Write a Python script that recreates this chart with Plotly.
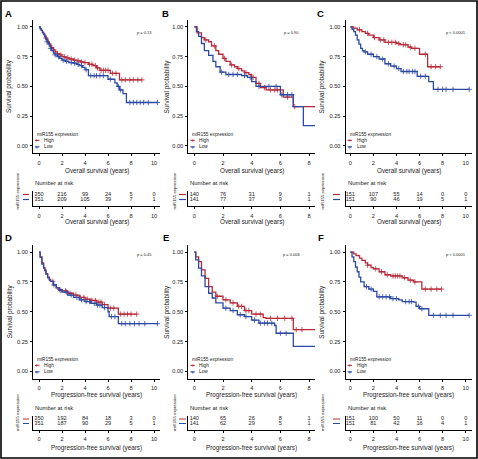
import numpy as np
import plotly.graph_objects as go

W, H = 478, 459
RED = "#B8293A"
BLUE = "#2C49A3"
NARROW = "Liberation Sans Narrow, Arial Narrow, Liberation Sans, Arial, sans-serif"
SANS = "Liberation Sans, Arial, sans-serif"
TXT = "#222222"

# ------------------------------------------------------------------ data
TICKS_10 = [0, 2, 4, 6, 8, 10]
TICKS_8 = [0, 2, 4, 6, 8]
Y_TICKS = [0, 0.25, 0.5, 0.75, 1.0]
Y_TICK_TEXT = ["0.00", "0.25", "0.50", "0.75", "1.00"]
OS_TITLE = "Overall survival (years)"
PFS_TITLE = "Progression-free survival (years)"
Y_TITLE = "Survival probability"
GROUP_TITLE = "miR155 expression"
GROUPS = ["High", "Low"]
LETTERS = ["A", "B", "C", "D", "E", "F"]
P_VALUES = ["p = 0.13", "p = 0.90", "p < 0.0001", "p = 0.45", "p = 0.006", "p < 0.0001"]

# Panel A (overall survival)
A_HIGH_T = [0, 0.1, 0.2, 0.3, 0.4, 0.5, 0.6, 0.7, 0.8, 0.9, 1.0, 1.1, 1.25, 1.4, 1.6, 1.8, 2.0, 2.3, 2.6, 3.0, 3.3, 3.6, 3.9, 4.3, 4.7, 5.0, 5.3, 6.2, 7.0, 8.95]
A_HIGH_S = [1.0, 0.985, 0.97, 0.955, 0.94, 0.925, 0.905, 0.89, 0.87, 0.855, 0.84, 0.825, 0.805, 0.79, 0.775, 0.765, 0.75, 0.74, 0.73, 0.72, 0.715, 0.705, 0.70, 0.685, 0.675, 0.655, 0.635, 0.61, 0.555, 0.555]
A_LOW_T = [0, 0.1, 0.2, 0.3, 0.4, 0.5, 0.6, 0.7, 0.8, 0.9, 1.0, 1.1, 1.25, 1.4, 1.6, 1.8, 2.0, 2.3, 2.6, 3.0, 3.3, 3.5, 3.8, 4.0, 4.3, 5.8, 6.0, 6.6, 6.8, 7.0, 7.3, 7.6, 10.3]
A_LOW_S = [1.0, 0.985, 0.97, 0.95, 0.935, 0.915, 0.895, 0.875, 0.86, 0.84, 0.82, 0.80, 0.78, 0.765, 0.75, 0.735, 0.72, 0.71, 0.70, 0.695, 0.685, 0.675, 0.66, 0.64, 0.59, 0.59, 0.56, 0.53, 0.50, 0.47, 0.44, 0.365, 0.365]
A_HIGH_CENS = [0.6, 0.9, 1.3, 1.6, 1.9, 2.2, 2.5, 2.8, 3.1, 3.4, 3.7, 4.0, 4.4, 4.6, 4.9, 5.1, 5.4, 5.6, 5.8, 6.0, 6.4, 6.7, 7.2, 7.5, 7.9, 8.2, 8.6, 8.95]
A_LOW_CENS = [0.7, 1.0, 1.4, 1.7, 2.1, 2.4, 2.8, 3.1, 3.4, 3.7, 4.1, 4.5, 4.8, 5.0, 5.3, 5.6, 6.2, 6.9, 7.1, 7.9, 8.2, 8.5, 8.8, 9.1, 9.5, 10.3]
A_RISK_HIGH = [350, 216, 99, 24, 5, 0]
A_RISK_LOW = [351, 209, 105, 39, 7, 1]

# Panel B (overall survival)
B_HIGH_T = [0, 0.2, 0.5, 0.7, 1.0, 1.2, 1.5, 1.7, 2.0, 2.2, 2.5, 2.8, 3.0, 3.3, 3.5, 3.8, 4.0, 4.3, 4.6, 5.0, 6.2, 6.9, 8.45]
B_HIGH_S = [1.0, 0.95, 0.91, 0.89, 0.875, 0.84, 0.80, 0.77, 0.735, 0.71, 0.68, 0.665, 0.65, 0.63, 0.615, 0.60, 0.575, 0.525, 0.49, 0.47, 0.41, 0.33, 0.33]
B_LOW_T = [0, 0.15, 0.3, 0.5, 0.7, 1.0, 1.3, 1.5, 1.8, 2.2, 3.3, 3.7, 4.0, 4.3, 6.0, 6.9, 7.6, 8.45]
B_LOW_S = [1.0, 0.96, 0.92, 0.86, 0.80, 0.76, 0.71, 0.665, 0.62, 0.60, 0.59, 0.575, 0.54, 0.50, 0.43, 0.33, 0.17, 0.17]
B_HIGH_CENS = [0.8, 1.4, 2.1, 2.6, 3.1, 3.6, 4.1, 4.5, 4.9, 5.3, 5.6, 5.8, 6.5, 7.0, 8.45]
B_LOW_CENS = [1.9, 2.4, 2.7, 3.0, 3.5, 3.9, 4.5, 5.2, 5.7, 6.1, 6.5, 6.8]
B_RISK_HIGH = [140, 76, 31, 9, 1]
B_RISK_LOW = [141, 77, 37, 9, 1]

# Panel C (overall survival)
C_HIGH_T = [0, 0.3, 0.6, 1.0, 1.3, 1.6, 2.0, 2.5, 3.0, 4.0, 4.3, 5.0, 5.3, 6.0, 6.7, 7.8]
C_HIGH_S = [1.0, 0.99, 0.975, 0.96, 0.945, 0.93, 0.91, 0.89, 0.87, 0.86, 0.85, 0.83, 0.82, 0.77, 0.665, 0.665]
C_LOW_T = [0, 0.15, 0.3, 0.45, 0.6, 0.75, 0.9, 1.05, 1.2, 1.5, 2.0, 2.5, 3.0, 3.5, 4.0, 4.4, 5.8, 6.8, 7.2, 10.3]
C_LOW_S = [1.0, 0.98, 0.96, 0.93, 0.89, 0.855, 0.82, 0.80, 0.79, 0.77, 0.75, 0.73, 0.69, 0.67, 0.65, 0.625, 0.585, 0.54, 0.475, 0.475]
C_HIGH_CENS = [0.8, 1.5, 2.1, 2.6, 2.9, 3.3, 3.6, 3.9, 4.2, 4.6, 4.8, 5.2, 5.6, 6.5, 7.0, 7.4, 7.8]
C_LOW_CENS = [1.3, 1.8, 2.3, 2.8, 3.3, 3.8, 4.2, 4.6, 4.9, 5.1, 5.4, 5.6, 6.1, 6.5, 7.6, 8.0, 8.3, 8.9, 10.3]
C_RISK_HIGH = [151, 107, 55, 14, 0, 0]
C_RISK_LOW = [151, 90, 46, 19, 5, 1]

# Panel D (progression-free survival)
D_HIGH_T = [0, 0.1, 0.25, 0.4, 0.5, 0.6, 0.75, 0.9, 1.0, 1.25, 1.5, 1.75, 2.0, 2.5, 3.0, 3.5, 4.0, 4.5, 5.0, 5.5, 6.0, 6.9, 8.5]
D_HIGH_S = [1.0, 0.96, 0.91, 0.87, 0.85, 0.82, 0.79, 0.77, 0.755, 0.725, 0.70, 0.685, 0.675, 0.655, 0.64, 0.62, 0.605, 0.595, 0.58, 0.56, 0.53, 0.48, 0.48]
D_LOW_T = [0, 0.1, 0.25, 0.4, 0.5, 0.6, 0.75, 0.9, 1.0, 1.25, 1.5, 1.75, 2.0, 2.5, 3.0, 3.5, 4.0, 4.5, 5.0, 5.5, 6.0, 6.1, 6.9, 10.3]
D_LOW_S = [1.0, 0.955, 0.90, 0.865, 0.845, 0.815, 0.785, 0.765, 0.755, 0.725, 0.70, 0.68, 0.665, 0.64, 0.62, 0.60, 0.585, 0.57, 0.555, 0.535, 0.50, 0.46, 0.40, 0.40]
D_HIGH_CENS = [1.2, 1.8, 2.3, 2.7, 3.2, 3.6, 3.9, 4.2, 4.6, 4.9, 5.2, 5.4, 5.7, 6.2, 6.5, 7.1, 7.4, 7.7, 8.0, 8.5]
D_LOW_CENS = [1.3, 1.9, 2.4, 2.8, 3.3, 3.7, 4.1, 4.4, 4.8, 5.1, 5.3, 5.7, 6.3, 6.6, 7.2, 7.5, 7.9, 8.3, 8.7, 9.2, 10.3]
D_RISK_HIGH = [350, 192, 84, 18, 3, 0]
D_RISK_LOW = [351, 187, 90, 29, 5, 1]

# Panel E (progression-free survival)
E_HIGH_T = [0, 0.1, 0.3, 0.5, 0.75, 1.0, 1.25, 1.5, 2.0, 2.5, 3.0, 3.5, 4.0, 4.8, 5.0, 6.9, 8.45]
E_HIGH_S = [1.0, 0.96, 0.92, 0.85, 0.78, 0.71, 0.665, 0.63, 0.60, 0.575, 0.545, 0.51, 0.48, 0.45, 0.445, 0.35, 0.35]
E_LOW_T = [0, 0.1, 0.3, 0.5, 0.75, 1.0, 1.25, 1.5, 2.0, 2.5, 3.0, 3.5, 4.0, 4.5, 5.6, 5.7, 6.9, 8.45]
E_LOW_S = [1.0, 0.935, 0.865, 0.80, 0.71, 0.655, 0.615, 0.575, 0.53, 0.51, 0.475, 0.46, 0.43, 0.405, 0.385, 0.32, 0.21, 0.21]
E_HIGH_CENS = [1.6, 2.2, 2.7, 3.1, 3.3, 3.6, 3.8, 4.3, 4.6, 5.3, 5.8, 6.3, 6.8, 7.1, 7.5]
E_LOW_CENS = [2.2, 2.7, 3.2, 3.6, 4.2, 4.6, 4.9, 5.1, 5.4, 6.0, 6.4]
E_RISK_HIGH = [140, 65, 26, 8, 1]
E_RISK_LOW = [141, 62, 29, 5, 1]

# Panel F (progression-free survival)
F_HIGH_T = [0, 0.3, 0.5, 0.8, 1.0, 1.3, 1.5, 1.8, 2.0, 2.5, 3.0, 3.5, 4.5, 5.0, 5.5, 6.2, 7.9]
F_HIGH_S = [1.0, 0.985, 0.97, 0.95, 0.93, 0.91, 0.89, 0.87, 0.86, 0.835, 0.81, 0.80, 0.785, 0.765, 0.75, 0.69, 0.69]
F_LOW_T = [0, 0.15, 0.3, 0.45, 0.6, 0.75, 0.9, 1.2, 1.6, 2.0, 2.3, 3.5, 4.2, 4.5, 5.5, 5.7, 6.0, 6.8, 10.3]
F_LOW_S = [1.0, 0.96, 0.92, 0.875, 0.835, 0.79, 0.75, 0.71, 0.69, 0.67, 0.625, 0.61, 0.60, 0.585, 0.58, 0.545, 0.525, 0.47, 0.47]
F_HIGH_CENS = [1.5, 2.2, 2.7, 3.2, 3.7, 3.9, 4.1, 4.3, 4.7, 5.2, 5.6, 6.5, 7.0, 7.5, 7.9]
F_LOW_CENS = [1.4, 1.8, 2.5, 2.8, 3.1, 3.4, 3.7, 4.0, 4.8, 5.1, 5.3, 5.9, 6.2, 7.2, 7.8, 8.3, 8.9, 10.3]
F_RISK_HIGH = [151, 100, 50, 11, 0, 0]
F_RISK_LOW = [151, 81, 42, 16, 4, 1]

PANEL_DATA = [
    (A_HIGH_T, A_HIGH_S, A_LOW_T, A_LOW_S, A_HIGH_CENS, A_LOW_CENS, TICKS_10, A_RISK_HIGH, A_RISK_LOW, OS_TITLE),
    (B_HIGH_T, B_HIGH_S, B_LOW_T, B_LOW_S, B_HIGH_CENS, B_LOW_CENS, TICKS_8, B_RISK_HIGH, B_RISK_LOW, OS_TITLE),
    (C_HIGH_T, C_HIGH_S, C_LOW_T, C_LOW_S, C_HIGH_CENS, C_LOW_CENS, TICKS_10, C_RISK_HIGH, C_RISK_LOW, OS_TITLE),
    (D_HIGH_T, D_HIGH_S, D_LOW_T, D_LOW_S, D_HIGH_CENS, D_LOW_CENS, TICKS_10, D_RISK_HIGH, D_RISK_LOW, PFS_TITLE),
    (E_HIGH_T, E_HIGH_S, E_LOW_T, E_LOW_S, E_HIGH_CENS, E_LOW_CENS, TICKS_8, E_RISK_HIGH, E_RISK_LOW, PFS_TITLE),
    (F_HIGH_T, F_HIGH_S, F_LOW_T, F_LOW_S, F_HIGH_CENS, F_LOW_CENS, TICKS_10, F_RISK_HIGH, F_RISK_LOW, PFS_TITLE),
]

# ------------------------------------------------------------------ layout geometry (pixels)
COLS = [
    dict(left=33.0, zero=39.0, right=160.0, ppy=11.5, ytitle=9.5, rot=17.0, dash=(23.0, 29.0), letter=8.5, p=144.0),
    dict(left=188.3, zero=194.3, right=315.0, ppy=14.35, ytitle=167.0, rot=174.0, dash=(179.0, 186.0), letter=165.5, p=291.5),
    dict(left=345.5, zero=350.3, right=472.0, ppy=11.54, ytitle=322.0, rot=322.0, dash=(333.0, 340.0), letter=320.5, p=456.0),
]
ROWS = [
    dict(top=19.7, bot=153.1, title=171.0, nar=183.0, ttop=191.0, tbot=206.0, rhi=194.5, rlo=199.5,
         ttitle=222.0, roty=191.5, leg=(134.3, 140.3, 146.8), letter=14.0, p=32.3),
    dict(top=244.9, bot=378.6, title=394.7, nar=408.0, ttop=415.5, tbot=429.5, rhi=419.0, rlo=423.5,
         ttitle=448.0, roty=413.0, leg=(359.0, 365.3, 371.8), letter=237.0, p=254.7),
]
YR = [-0.06, 1.06]

FS_TICK = 5.6
FS_TITLE = 6.3
FS_NAR = 5.9
FS_NUM = 5.6
FS_LEG = 4.8
FS_P = 4.0
FS_ROT = 4.3


def fx(px):
    return px / W


def fy(py):
    return 1 - py / H


def sfx(n):
    return "" if n == 1 else str(n)


def step_at(t_list, s_list, t):
    idx = np.searchsorted(np.asarray(t_list), np.asarray(t), side="right") - 1
    return np.asarray(s_list)[idx]


fig = go.Figure()
layout = dict(
    width=W, height=H, margin=dict(l=0, r=0, t=0, b=0),
    paper_bgcolor="white", plot_bgcolor="white", showlegend=False,
)
annotations = []
shapes = []

axis_common = dict(
    showline=True, linecolor="black", linewidth=1, ticks="outside", ticklen=2,
    tickwidth=1, tickcolor="black", showgrid=False, zeroline=False, fixedrange=True,
    tickfont=dict(family=NARROW, size=FS_TICK, color=TXT),
)


def ann(x, y, text, size, xanchor="center", angle=0, color=TXT, family=NARROW, bold=False):
    t = f"<b>{text}</b>" if bold else text
    annotations.append(dict(
        x=fx(x), y=fy(y), xref="paper", yref="paper", text=t, showarrow=False,
        xanchor=xanchor, yanchor="middle", textangle=angle,
        font=dict(family=family, size=size, color=color),
    ))


for i, data in enumerate(PANEL_DATA):
    ht, hs, lt, ls, hc, lc, ticks, rh, rl, xtitle = data
    col = COLS[i % 3]
    row = ROWS[i // 3]
    n_main = i + 1
    n_tab = i + 7
    xr = [(col["left"] - col["zero"]) / col["ppy"], (col["right"] - col["zero"]) / col["ppy"]]
    xdom = [fx(col["left"]), fx(col["right"])]

    # curves
    for t, s, c, color in ((ht, hs, hc, RED), (lt, ls, lc, BLUE)):
        fig.add_trace(go.Scatter(
            x=t, y=s, mode="lines", line=dict(color=color, width=1.3, shape="hv"),
            xaxis="x" + sfx(n_main), yaxis="y" + sfx(n_main), hoverinfo="skip",
        ))
        fig.add_trace(go.Scatter(
            x=c, y=step_at(t, s, c), mode="markers",
            marker=dict(symbol="cross-thin", size=3.8, color=color, line=dict(color=color, width=0.8)),
            xaxis="x" + sfx(n_main), yaxis="y" + sfx(n_main), hoverinfo="skip",
        ))

    # risk table numbers
    for vals, yv in ((rh, 1), (rl, 0)):
        fig.add_trace(go.Scatter(
            x=ticks, y=[yv] * len(ticks), mode="text", text=[str(v) for v in vals],
            textfont=dict(family=NARROW, size=FS_NUM, color=TXT), textposition="middle center",
            xaxis="x" + sfx(n_tab), yaxis="y" + sfx(n_tab), hoverinfo="skip", cliponaxis=False,
        ))

    # axes: main
    layout["xaxis" + sfx(n_main)] = dict(
        axis_common, domain=xdom, range=xr, anchor="y" + sfx(n_main), tickvals=ticks,
        ticklabelstandoff=2,
    )
    layout["yaxis" + sfx(n_main)] = dict(
        axis_common, domain=[fy(row["bot"]), fy(row["top"])], range=YR, anchor="x" + sfx(n_main),
        tickvals=Y_TICKS, ticktext=Y_TICK_TEXT, ticklabelstandoff=1,
    )
    # axes: table
    ppu = row["rlo"] - row["rhi"]
    tyr = [-(row["tbot"] - row["rlo"]) / ppu, 1 + (row["rhi"] - row["ttop"]) / ppu]
    layout["xaxis" + sfx(n_tab)] = dict(
        axis_common, domain=xdom, range=xr, anchor="y" + sfx(n_tab), tickvals=ticks,
        ticklabelstandoff=2,
    )
    layout["yaxis" + sfx(n_tab)] = dict(
        axis_common, domain=[fy(row["tbot"]), fy(row["ttop"])], range=tyr, anchor="x" + sfx(n_tab),
        ticks="", showticklabels=False,
    )

    # table group dashes
    for yv, color in ((1, RED), (0, BLUE)):
        shapes.append(dict(
            type="line", xref="paper", yref="y" + sfx(n_tab), x0=fx(col["dash"][0]), x1=fx(col["dash"][1]),
            y0=yv, y1=yv, line=dict(color=color, width=1.2),
        ))

    # text
    xc = (col["left"] + col["right"]) / 2
    ann(xc, row["title"], xtitle, FS_TITLE)
    ann(xc, row["ttitle"], xtitle, FS_TITLE)
    ann(col["ytitle"], (row["top"] + row["bot"]) / 2, Y_TITLE, FS_TITLE, angle=-90)
    ann(col["left"], row["nar"], "Number at risk", FS_NAR, xanchor="left")
    ann(col["rot"], row["roty"], GROUP_TITLE, FS_ROT, angle=-90)
    ann(col["letter"], row["letter"], LETTERS[i], 9.5, family=SANS, bold=True, color="black")
    ann(col["p"], row["p"], P_VALUES[i], FS_P)

    # in-plot legend
    lx = col["left"] + 2
    ann(lx, row["leg"][0], GROUP_TITLE, FS_LEG, xanchor="left")
    for k, color in enumerate((RED, BLUE)):
        yy = row["leg"][k + 1]
        shapes.append(dict(
            type="line", xref="paper", yref="paper", x0=fx(lx), x1=fx(lx + 4.5),
            y0=fy(yy), y1=fy(yy), line=dict(color=color, width=1),
        ))
        ann(lx + 2.25, yy, "+", 6, color=color, family=SANS)
        ann(lx + 7, yy, GROUPS[k], FS_LEG, xanchor="left")

# outer frame
shapes.append(dict(type="rect", xref="paper", yref="paper", x0=fx(1), x1=fx(477), y0=fy(458), y1=fy(1),
                   line=dict(color="black", width=1.6)))

layout["annotations"] = annotations
layout["shapes"] = shapes
fig.update_layout(**layout)
fig.write_html("out.html", config={"displayModeBar": False},
               post_script="document.body.style.margin='0';")
